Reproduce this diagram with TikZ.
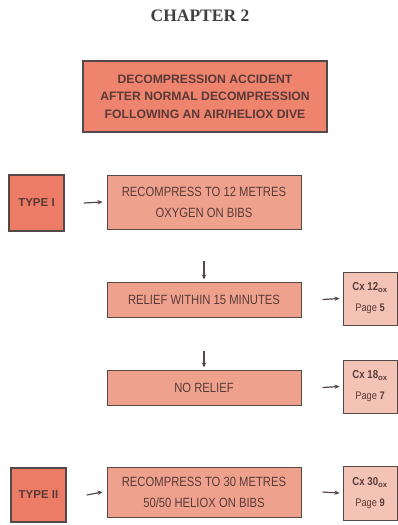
\documentclass[tikz,border=0pt]{standalone}
\usepackage{fontspec}
\setmainfont{Liberation Sans}
\newfontfamily\condfont{Liberation Sans}[FakeStretch=0.84]
\newfontfamily\serifbold{Liberation Serif}
\usetikzlibrary{arrows.meta}
\definecolor{topfill}{RGB}{238,132,110}
\definecolor{typefill}{RGB}{236,124,102}
\definecolor{stepfill}{RGB}{238,162,142}
\definecolor{cxfill}{RGB}{243,196,182}
\definecolor{edge}{RGB}{85,72,72}
\definecolor{ink}{RGB}{90,58,55}
\tikzset{
  box/.style={draw=edge, line width=1pt, text=ink, inner sep=0pt, align=center},
  topbox/.style={box, fill=topfill, line width=1.3pt, minimum width=244pt, minimum height=71pt, font=\fontsize{12.2}{17.5}\selectfont\bfseries},
  typebox/.style={box, fill=typefill, line width=1.6pt, minimum width=55pt, font=\fontsize{11.5}{12}\selectfont\bfseries},
  stepbox/.style={box, fill=stepfill, minimum width=194pt, font=\fontsize{13.4}{21}\condfont},
  cxbox/.style={box, fill=cxfill, minimum width=54pt, minimum height=53pt, font=\fontsize{11}{21}\condfont},
  arr/.style={draw=edge, line width=1.2pt, -{Stealth[length=5pt,width=4.5pt]}}
}
\begin{document}
\begin{tikzpicture}[x=1pt,y=-1pt]
\useasboundingbox[fill=white] (0,0) rectangle (398,525);
\node[font=\fontsize{17.5}{19}\serifbold\bfseries, text=black!75] (chap) at (200,16) {CHAPTER 2};
\node[topbox] (top) at (205,96.5) {DECOMPRESSION ACCIDENT\\AFTER NORMAL DECOMPRESSION\\FOLLOWING AN AIR/HELIOX DIVE};
\node[typebox, minimum height=56pt] (t1) at (36.5,203) {TYPE I};
\node[stepbox, minimum height=54pt] (r12) at (204,202) {RECOMPRESS TO 12 METRES\\OXYGEN ON BIBS};
\node[stepbox, minimum height=35pt] (rel) at (204,299.5) {RELIEF WITHIN 15 MINUTES};
\node[stepbox, minimum height=35pt] (norel) at (204,387.5) {NO RELIEF};
\node[stepbox, minimum height=50pt] (r30) at (204,492) {RECOMPRESS TO 30 METRES\\50/50 HELIOX ON BIBS};
\node[typebox, minimum height=54pt] (t2) at (38.5,495) {TYPE II};
\node[cxbox] (cx12) at (370,298.5) {{\fontsize{11.5}{21}\selectfont\bfseries Cx 12}$_{\mathbf{ox}}$\\Page \textbf{5}};
\node[cxbox] (cx18) at (370,386.5) {{\fontsize{11.5}{21}\selectfont\bfseries Cx 18}$_{\mathbf{ox}}$\\Page \textbf{7}};
\node[cxbox, minimum height=54pt] (cx30) at (370,493) {{\fontsize{11.5}{21}\selectfont\bfseries Cx 30}$_{\mathbf{ox}}$\\Page \textbf{9}};
\draw[arr] ([xshift=19pt]t1.east) -- ([xshift=-4pt]r12.west);
\draw[arr] ([xshift=20pt]t2.east) -- ([xshift=-4pt]r30.west);
\draw[arr] ([yshift=-31pt]r12.south) -- ([yshift=2pt]rel.north);
\draw[arr] ([yshift=-33pt]rel.south) -- ([yshift=2pt]norel.north);
\draw[arr] ([xshift=21pt]rel.east) -- ([xshift=-3pt]cx12.west);
\draw[arr] ([xshift=21pt]norel.east) -- ([xshift=-3pt]cx18.west);
\draw[arr] ([xshift=21pt]r30.east) -- ([xshift=-3pt]cx30.west);
\end{tikzpicture}
\end{document}
